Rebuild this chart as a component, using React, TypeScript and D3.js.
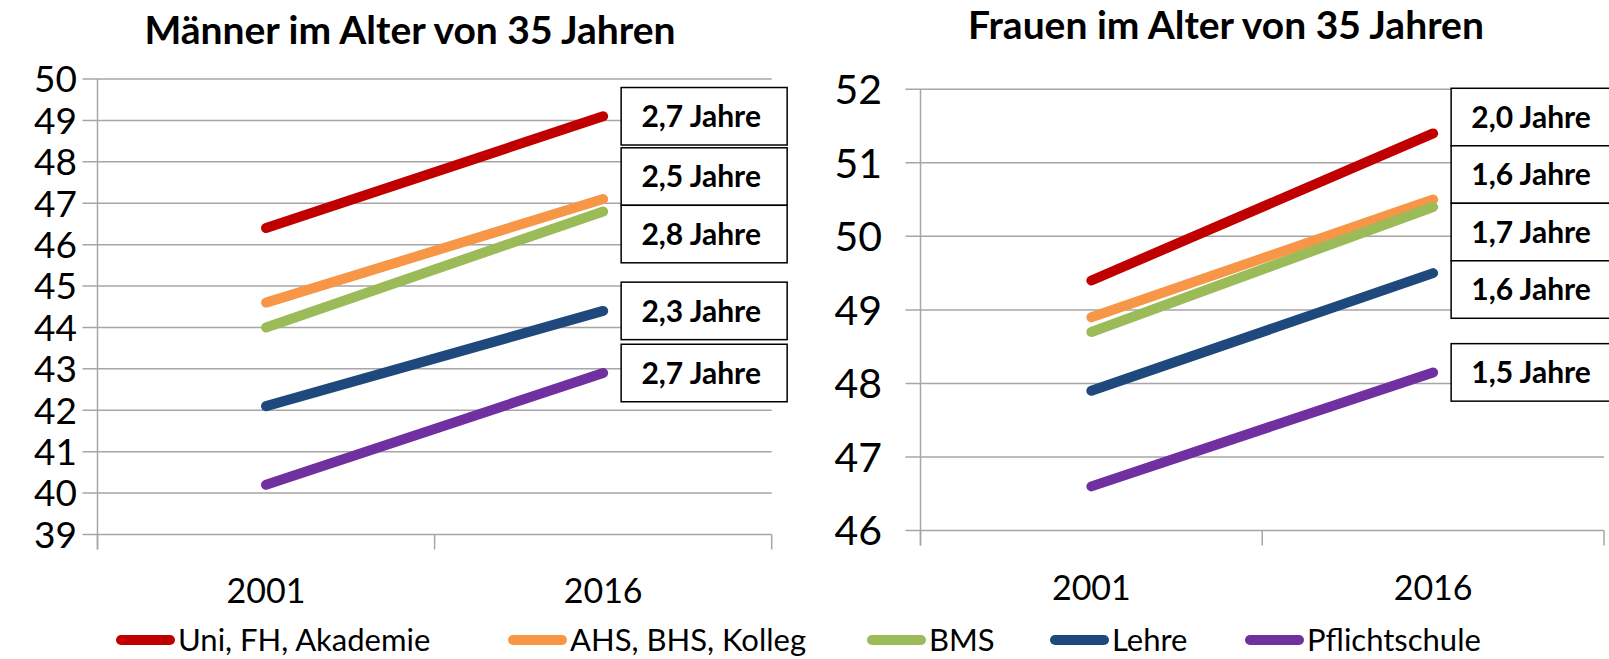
import React from "react";
import * as d3 from "d3";

const years = ["2001", "2016"];
const series = ["Uni, FH, Akademie", "AHS, BHS, Kolleg", "BMS", "Lehre", "Pflichtschule"];
const colors = ["#C00000", "#F79646", "#9BBB59", "#1F497D", "#7030A0"];

const menStart = [46.4, 44.6, 44.0, 42.1, 40.2];
const menEnd = [49.1, 47.1, 46.8, 44.4, 42.9];
const menLabels = ["2,7 Jahre", "2,5 Jahre", "2,8 Jahre", "2,3 Jahre", "2,7 Jahre"];
const menTicks = [39, 40, 41, 42, 43, 44, 45, 46, 47, 48, 49, 50];

const womenStart = [49.4, 48.9, 48.7, 47.9, 46.6];
const womenEnd = [51.4, 50.5, 50.4, 49.5, 48.15];
const womenLabels = ["2,0 Jahre", "1,6 Jahre", "1,7 Jahre", "1,6 Jahre", "1,5 Jahre"];
const womenTicks = [46, 47, 48, 49, 50, 51, 52];

const FONT = "Lato, 'Open Sans', sans-serif";
const GRID = "#A6A6A6";

type PanelProps = {
  title: string;
  titleX: number;
  titleY: number;
  starts: number[];
  ends: number[];
  labels: string[];
  ticks: number[];
  x0: number;
  x1: number;
  yTop: number;
  yBottom: number;
  tickLabelX: number;
  tickFont: number;
  xLabelY: number;
  boxHeight: number;
  boxTopMin: number;
};

function layoutBoxes(centers: number[], h: number, topMin: number) {
  const order = centers.map((c, i) => i).sort((a, b) => centers[a] - centers[b]);
  let clusters: { idx: number[]; top: number }[] = order.map((i) => ({ idx: [i], top: centers[i] - h / 2 }));
  let changed = true;
  while (changed) {
    changed = false;
    for (let k = 0; k < clusters.length; k++) {
      if (clusters[k].top < topMin) clusters[k].top = topMin;
    }
    for (let k = 0; k < clusters.length - 1; k++) {
      const a = clusters[k];
      const b = clusters[k + 1];
      if (a.top + a.idx.length * h > b.top + 0.01) {
        const idx = a.idx.concat(b.idx);
        const mean = d3.mean(idx, (i) => centers[i]) as number;
        const merged = { idx, top: Math.max(topMin, mean - (idx.length * h) / 2) };
        clusters.splice(k, 2, merged);
        changed = true;
        break;
      }
    }
  }
  const tops: number[] = new Array(centers.length);
  clusters.forEach((c) => c.idx.forEach((i, j) => (tops[i] = c.top + j * h)));
  return tops;
}

function Panel(p: PanelProps) {
  const y = d3.scaleLinear().domain(d3.extent(p.ticks) as [number, number]).range([p.yBottom, p.yTop]);
  const x = d3.scaleBand().domain(years).range([p.x0, p.x1]);
  const cx = (yr: string) => (x(yr) as number) + x.bandwidth() / 2;
  const endX = cx(years[1]);
  const boxW = 166;
  const boxLeft = endX + 18;
  const tops = layoutBoxes(p.ends.map((v) => y(v)), p.boxHeight, p.boxTopMin);
  const line = d3.line<[number, number]>().x((d) => d[0]).y((d) => d[1]);
  return (
    <g>
      <text x={p.titleX} y={p.titleY} textAnchor="middle" fontFamily={FONT} fontWeight="bold" fontSize={39} fill="#000">
        {p.title}
      </text>
      {p.ticks.map((t) => (
        <g key={t}>
          <line x1={p.x0 - 15} x2={p.x1} y1={y(t)} y2={y(t)} stroke={GRID} strokeWidth={1.5} />
          <text x={p.tickLabelX} y={y(t)} dy="0.36em" textAnchor="end" fontFamily={FONT} fontSize={p.tickFont} fill="#000">
            {t}
          </text>
        </g>
      ))}
      <line x1={p.x0} x2={p.x0} y1={p.yTop} y2={p.yBottom + 15} stroke={GRID} strokeWidth={1.5} />
      {[p.x0, (p.x0 + p.x1) / 2, p.x1].map((tx, i) => (
        <line key={i} x1={tx} x2={tx} y1={p.yBottom} y2={p.yBottom + 15} stroke={GRID} strokeWidth={1.5} />
      ))}
      {years.map((yr) => (
        <text key={yr} x={cx(yr)} y={p.xLabelY} textAnchor="middle" fontFamily={FONT} fontSize={34} fill="#000">
          {yr}
        </text>
      ))}
      {series.map((s, i) => (
        <path
          key={s}
          d={line([
            [cx(years[0]), y(p.starts[i])],
            [cx(years[1]), y(p.ends[i])],
          ]) as string}
          stroke={colors[i]}
          strokeWidth={10}
          strokeLinecap="round"
          fill="none"
        />
      ))}
      {p.labels.map((l, i) => (
        <g key={i}>
          <rect x={boxLeft} y={tops[i]} width={boxW} height={p.boxHeight} fill="#fff" stroke="#000" strokeWidth={1.5} />
          <text
            x={boxLeft + boxW / 2 - 3}
            y={tops[i] + p.boxHeight / 2}
            dy="0.36em"
            textAnchor="middle"
            fontFamily={FONT}
            fontWeight="bold"
            fontSize={30}
            fill="#000"
          >
            {l}
          </text>
        </g>
      ))}
    </g>
  );
}

const legendStarts = [116, 508, 867, 1050, 1245];

export default function App() {
  return (
    <svg
      width={1609}
      height={659}
      style={{ position: "absolute", left: 0, top: 0, background: "#fff" }}
    >
      <rect width={1609} height={659} fill="#fff" />
      <Panel
        title="Männer im Alter von 35 Jahren"
        titleX={410}
        titleY={44}
        starts={menStart}
        ends={menEnd}
        labels={menLabels}
        ticks={menTicks}
        x0={97.5}
        x1={771.7}
        yTop={79}
        yBottom={534.5}
        tickLabelX={77}
        tickFont={37}
        xLabelY={603}
        boxHeight={57.5}
        boxTopMin={79}
      />
      <Panel
        title="Frauen im Alter von 35 Jahren"
        titleX={1226}
        titleY={39}
        starts={womenStart}
        ends={womenEnd}
        labels={womenLabels}
        ticks={womenTicks}
        x0={920.5}
        x1={1604}
        yTop={89.3}
        yBottom={530.5}
        tickLabelX={882}
        tickFont={41}
        xLabelY={600}
        boxHeight={57.5}
        boxTopMin={77}
      />
      {series.map((s, i) => (
        <g key={s}>
          <line
            x1={legendStarts[i] + 5}
            x2={legendStarts[i] + 54}
            y1={640}
            y2={640}
            stroke={colors[i]}
            strokeWidth={10}
            strokeLinecap="round"
          />
          <text x={legendStarts[i] + 62} y={640} dy="0.36em" fontFamily={FONT} fontSize={31} fill="#000">
            {s}
          </text>
        </g>
      ))}
    </svg>
  );
}
